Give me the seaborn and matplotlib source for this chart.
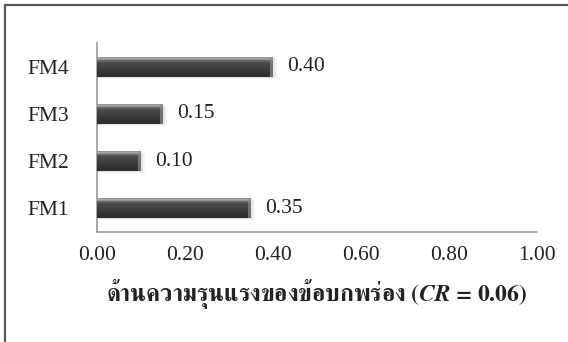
import numpy as np
import pandas as pd
import matplotlib
matplotlib.use("Agg")
import matplotlib.pyplot as plt
from matplotlib.colors import LinearSegmentedColormap
from matplotlib.lines import Line2D
import seaborn as sns

# Failure-mode weights on the severity criterion
modes = ["FM4", "FM3", "FM2", "FM1"]
weights = [0.40, 0.15, 0.10, 0.35]
value_labels = ["0.40", "0.15", "0.10", "0.35"]
x_ticks = [0.0, 0.2, 0.4, 0.6, 0.8, 1.0]
x_tick_labels = ["0.00", "0.20", "0.40", "0.60", "0.80", "1.00"]
x_title = "ด้านความรุนแรงของข้อบกพร่อง ($CR$ = 0.06)"

df = pd.DataFrame({"mode": modes, "weight": weights})

sns.set_theme(style="white")
plt.rcParams["font.family"] = ["Liberation Serif", "FreeSerif"]
plt.rcParams["mathtext.fontset"] = "custom"
plt.rcParams["mathtext.it"] = "FreeSerif:italic:bold"
plt.rcParams["mathtext.rm"] = "FreeSerif:bold"

W, H = 568, 342
fig = plt.figure(figsize=(W / 100, H / 100), dpi=100)
ax = fig.add_axes([97 / W, (H - 232) / H, (537 - 97) / W, (232 - 43) / H])

bar_h = 0.42
sns.barplot(data=df, x="weight", y="mode", order=modes, orient="h",
            color="#3d3d3f", width=bar_h, saturation=1, ax=ax,
            edgecolor="none", zorder=3)

ax.set_xlim(0, 1.0)
ax.set_ylim(3.51, -0.51)

# bevelled look: horizontal bands of shading inside each bar,
# light rim along the upper edge, darker toward the lower edge
shade = LinearSegmentedColormap.from_list(
    "bevel",
    [(0.0, "#8e8e90"), (0.07, "#b0b0b2"), (0.14, "#7c7c7e"),
     (0.26, "#4c4c4e"), (0.6, "#3c3c3e"), (1.0, "#2a2a2c")])
n_bands = 30
bars = list(ax.patches)
for p in bars:
    x0, y0 = p.get_x(), p.get_y()
    w, h = p.get_width(), p.get_height()
    # soft drop shadow below/right
    for k, a in enumerate([0.35, 0.2]):
        ax.add_patch(plt.Rectangle((x0, y0 + 0.02 * (k + 1)), w + 0.004 * (k + 1), h,
                                   facecolor="#c8c8c8", edgecolor="none",
                                   alpha=a, zorder=2))
    for i in range(n_bands):
        f = (i + 0.5) / n_bands
        # y0 is the upper edge on screen (category axis runs downward)
        ax.add_patch(plt.Rectangle((x0, y0 + i * h / n_bands), w, h / n_bands * 1.05,
                                   facecolor=shade(f), edgecolor="none", zorder=4))
    # lighter bevel at the right end of the bar
    ax.add_patch(plt.Rectangle((x0 + w - 0.006, y0), 0.006, h, facecolor="#8a8a8c",
                               edgecolor="none", alpha=0.7, zorder=5))

ax.set_xticks(x_ticks)
ax.set_xticklabels(x_tick_labels)
ax.tick_params(axis="x", length=0, pad=10, labelsize=15.5, colors="#222222")
ax.tick_params(axis="y", length=0, pad=20, labelsize=15.5, colors="#222222")
ax.set_ylabel("")
ax.set_xlabel(x_title, family="FreeSerif", fontweight="bold", fontsize=17,
              color="#222222", labelpad=9)

for p, lab in zip(bars, value_labels):
    ax.annotate(lab, (p.get_x() + p.get_width(), p.get_y() + p.get_height() / 2),
                xytext=(10, 0), textcoords="offset points", va="center",
                ha="left", fontsize=15.5, color="#222222")

for s in ["top", "right"]:
    ax.spines[s].set_visible(False)
for s in ["left", "bottom"]:
    ax.spines[s].set_color("#9a9a9a")
    ax.spines[s].set_linewidth(1.2)

# frame around the chart area (top and left edges)
fig.add_artist(Line2D([4.5 / W, 1.0], [1 - 4.5 / H, 1 - 4.5 / H],
                      transform=fig.transFigure, color="#5a5a5a", lw=1.6))
fig.add_artist(Line2D([4.5 / W, 4.5 / W], [0.0, 1 - 4.5 / H],
                      transform=fig.transFigure, color="#5a5a5a", lw=1.6))

fig.savefig("out.png", dpi=100, facecolor="white")
